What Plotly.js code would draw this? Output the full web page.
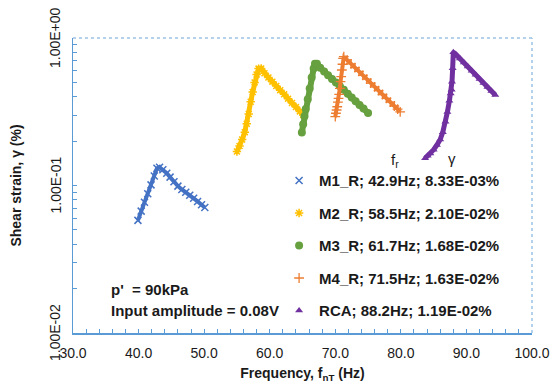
<!DOCTYPE html>
<html>
<head>
<meta charset="utf-8">
<script src="https://cdn.plot.ly/plotly-3.0.1.min.js"></script>
<style>html,body{margin:0;padding:0;background:#fff;}#chart{width:552px;height:387px;}</style>
</head>
<body>
<div id="chart"></div>
<script>
// Series names (legend labels)
const names = [
  'M1_R; 42.9Hz; 8.33E-03%',
  'M2_R; 58.5Hz; 2.10E-02%',
  'M3_R; 61.7Hz; 1.68E-02%',
  'M4_R; 71.5Hz; 1.63E-02%',
  'RCA; 88.2Hz; 1.19E-02%'
];

// Frequency (Hz) and shear strain (%)
const m1Freq = [39.9, 40.4, 40.9, 41.4, 41.9, 42.4, 42.8, 43.2, 43.7, 44.3, 44.8, 45.4, 46.0, 46.6, 47.2, 47.8, 48.4, 49.0, 49.6, 50.1];
const m1Strain = [0.058, 0.067, 0.077, 0.088, 0.101, 0.116, 0.131, 0.133, 0.128, 0.121, 0.114, 0.106, 0.099, 0.094, 0.090, 0.086, 0.082, 0.078, 0.074, 0.071];

const m2Freq = [55.0, 55.4, 55.8, 56.2, 56.5, 56.8, 57.1, 57.4, 57.7, 58.0, 58.3, 58.7, 59.2, 59.8, 60.4, 61.0, 61.6, 62.2, 62.8, 63.4, 64.0, 64.6, 65.1];
const m2Strain = [0.170, 0.185, 0.205, 0.230, 0.262, 0.305, 0.370, 0.430, 0.500, 0.565, 0.620, 0.622, 0.577, 0.540, 0.506, 0.473, 0.443, 0.415, 0.388, 0.363, 0.340, 0.318, 0.301];

const m3Freq = [64.9, 65.1, 65.3, 65.5, 65.8, 66.1, 66.4, 66.7, 66.9, 67.2, 67.7, 68.3, 68.9, 69.5, 70.1, 70.7, 71.3, 71.9, 72.5, 73.1, 73.7, 74.3, 75.0];
const m3Strain = [0.229, 0.260, 0.295, 0.330, 0.385, 0.455, 0.540, 0.620, 0.670, 0.668, 0.629, 0.593, 0.560, 0.528, 0.499, 0.471, 0.445, 0.419, 0.395, 0.373, 0.352, 0.333, 0.310];

const m4Freq = [70.0, 70.1, 70.2, 70.3, 70.4, 70.5, 70.6, 70.7, 70.8, 70.9, 71.0, 71.1, 71.2, 71.3, 71.8, 72.4, 73.0, 73.6, 74.2, 74.8, 75.4, 76.0, 76.6, 77.2, 77.8, 78.4, 79.0, 79.5, 79.9];
const m4Strain = [0.293, 0.309, 0.325, 0.342, 0.367, 0.390, 0.415, 0.456, 0.506, 0.547, 0.607, 0.664, 0.728, 0.747, 0.710, 0.668, 0.630, 0.593, 0.558, 0.526, 0.495, 0.467, 0.440, 0.414, 0.390, 0.367, 0.346, 0.329, 0.316];

const rcaFreq = [83.7, 84.1, 84.5, 85.0, 85.5, 86.0, 86.4, 86.8, 87.1, 87.4, 87.6, 87.75, 87.8, 87.9, 88.0, 88.4, 89.0, 89.6, 90.2, 90.8, 91.4, 92.0, 92.6, 93.2, 93.8, 94.4];
const rcaStrain = [0.153, 0.159, 0.165, 0.175, 0.188, 0.205, 0.230, 0.270, 0.315, 0.375, 0.420, 0.445, 0.505, 0.623, 0.800, 0.774, 0.727, 0.681, 0.640, 0.600, 0.563, 0.528, 0.496, 0.466, 0.437, 0.410];

// Axis ticks and labels
const yTickVals = [0.01,0.02,0.03,0.04,0.05,0.06,0.07,0.08,0.09,0.1,0.2,0.3,0.4,0.5,0.6,0.7,0.8,0.9,1];
const yDecadeVals = [0.01, 0.1, 1];
const yDecadeText = ['1.00E-02','1.00E-01','1.00E+00'];

const axisBlue = '#5B9BD5';

const series = [
  {x:m1Freq, y:m1Strain, color:'#4472C4', lw:4, marker:{symbol:'x-thin-open', size:7, line:{width:1.5}}},
  {x:m2Freq, y:m2Strain, color:'#FFC000', lw:5, marker:{symbol:'asterisk-open', size:7, line:{width:1.5}}},
  {x:m3Freq, y:m3Strain, color:'#66A03F', lw:6, marker:{symbol:'circle', size:8, line:{width:0}}},
  {x:m4Freq, y:m4Strain, color:'#ED7D31', lw:4, marker:{symbol:'cross-thin-open', size:7, line:{width:1.3}}},
  {x:rcaFreq, y:rcaStrain, color:'#7030A0', lw:5, marker:{symbol:'triangle-up', size:7, line:{width:0}}}
];

const traces = [];
series.forEach((s, i) => {
  traces.push({x:s.x, y:s.y, mode:'lines', showlegend:false, legendgroup:'g'+i,
    line:{color:s.color, width:s.lw}, hoverinfo:'skip'});
  traces.push({x:s.x, y:s.y, mode:'markers', name:names[i], legendgroup:'g'+i,
    marker:{symbol:s.marker.symbol, size:s.marker.size, color:s.color,
      line:{color:s.color, width:s.marker.line.width}}});
});

const annotations = [
  {xref:'paper', yref:'paper', x:0.0784, y:0.149, xanchor:'left', yanchor:'middle', showarrow:false,
   text:"<b>p'&nbsp; = 90kPa</b>", font:{size:15}},
  {xref:'paper', yref:'paper', x:0.0784, y:0.0746, xanchor:'left', yanchor:'middle', showarrow:false,
   text:'<b>Input amplitude = 0.08V</b>', font:{size:15}},
  {xref:'paper', yref:'paper', x:0.7015, y:0.586, xanchor:'center', yanchor:'middle', showarrow:false,
   text:'f<sub>r</sub>', font:{size:15}},
  {xref:'paper', yref:'paper', x:0.826, y:0.59, xanchor:'center', yanchor:'middle', showarrow:false,
   text:'γ', font:{size:15}}
];
// y-axis decade tick labels (rotated), placed at the decade values
yDecadeVals.forEach((v, i) => {
  annotations.push({xref:'paper', yref:'y', x:-0.0392, y:Math.log10(v), xanchor:'center', yanchor:'middle',
    showarrow:false, textangle:-90, text:yDecadeText[i], font:{size:14, color:'#1a1a1a'}});
});

const layout = {
  width:552, height:387,
  margin:{l:73, r:20, t:38, b:54, pad:0},
  paper_bgcolor:'#ffffff', plot_bgcolor:'#ffffff',
  font:{family:'Arial, "Liberation Sans", sans-serif', size:14, color:'#1a1a1a'},
  showlegend:true,
  legend:{x:0.449, y:0.572, xanchor:'left', yanchor:'top', bgcolor:'rgba(0,0,0,0)',
    traceorder:'grouped', tracegroupgap:10, font:{size:15, weight:'bold', color:'#1a1a1a'}},
  xaxis:{range:[30,100], tick0:30, dtick:10, tickformat:'.1f', ticks:'inside', ticklen:4,
    tickcolor:axisBlue, showline:true, linecolor:axisBlue, linewidth:1.5, showgrid:false, zeroline:false,
    minor:{dtick:2, ticks:'inside', ticklen:4, tickcolor:axisBlue, showgrid:false},
    ticklabelstandoff:7, tickfont:{size:14},
    title:{text:'<b>Frequency, f<sub>nT</sub> (Hz)</b>', font:{size:14}, standoff:8}},
  yaxis:{type:'log', range:[-2,0], tickmode:'array', tickvals:yTickVals, showticklabels:false,
    ticks:'inside', ticklen:4, tickcolor:axisBlue, showline:true, linecolor:axisBlue,
    linewidth:1.5, showgrid:false, zeroline:false,
    title:{text:'<b>Shear strain, γ (%)</b>', font:{size:14}, standoff:46}},
  shapes:[
    {type:'line', xref:'paper', yref:'paper', x0:0, x1:1, y0:1, y1:1, line:{color:'#9DC3E6', width:1.5, dash:'dot'}},
    {type:'line', xref:'paper', yref:'paper', x0:1, x1:1, y0:0, y1:1, line:{color:'#9DC3E6', width:1.5, dash:'dot'}}
  ],
  annotations: annotations
};

Plotly.newPlot('chart', traces, layout, {staticPlot:true, displayModeBar:false});
</script>
</body>
</html>
